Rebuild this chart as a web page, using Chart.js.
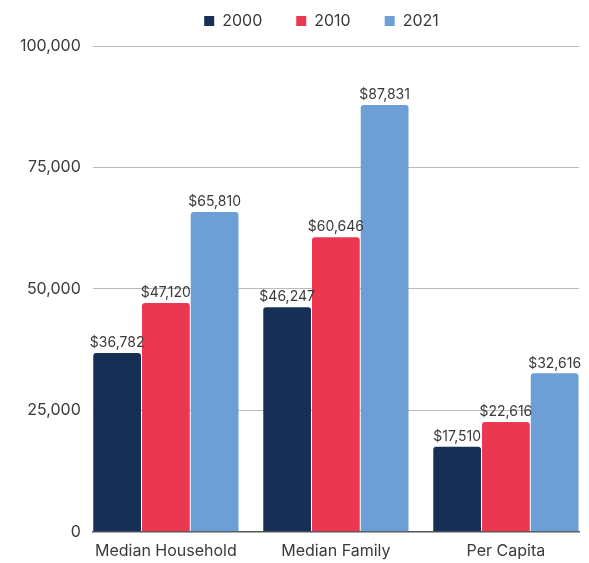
<!DOCTYPE html>
<html>
<head>
<meta charset="utf-8">
<script src="https://cdn.jsdelivr.net/npm/chart.js@4.4.0/dist/chart.umd.min.js"></script>
<style>
  html, body { margin: 0; padding: 0; background: #fff; }
  #wrap { width: 589px; height: 563px; }
</style>
</head>
<body>
<div id="wrap"><canvas id="c"></canvas></div>
<script>
const categories = ['Median Household', 'Median Family', 'Per Capita'];
const years = ['2000', '2010', '2021'];
const values2000 = [36782, 46247, 17510];
const values2010 = [47120, 60646, 22616];
const values2021 = [65810, 87831, 32616];
const yTicks = [0, 25000, 50000, 75000, 100000];

const colors = ['#162f55', '#ec3751', '#6c9fd6'];
const FONT = "Inter, sans-serif";

// draws the $ labels above each bar
const barLabels = {
    id: 'barLabels',
    afterDatasetsDraw(chart) {
        let ctx = chart.ctx;
        ctx.save();
        ctx.font = "14px " + FONT;
        ctx.fillStyle = '#3a3a3a';
        ctx.textAlign = 'center';
        ctx.textBaseline = 'bottom';
        chart.data.datasets.forEach((ds, i) => {
            let meta = chart.getDatasetMeta(i);
            meta.data.forEach((bar, j) => {
                ctx.fillText('$' + ds.data[j].toLocaleString('en-US'), bar.x, bar.y - 3);
            });
        });
        ctx.restore();
    }
};

// legend: fixed height and nudged right, like the original
const legendTweak = {
    id: 'legendTweak',
    beforeInit(chart) {
        let lg = chart.legend;
        let fit = lg.fit;
        lg.fit = function () {
            fit.call(this);
            this.height = 67;
        };
    },
    afterLayout(chart) {
        chart.legend.left += 28;
        chart.legend.right += 28;
    }
};

let config = {
    type: 'bar',
    data: {
        labels: categories,
        datasets: [
            { label: years[0], data: values2000, backgroundColor: colors[0] },
            { label: years[1], data: values2010, backgroundColor: colors[1] },
            { label: years[2], data: values2021, backgroundColor: colors[2] },
        ]
    },
    options: {
        responsive: true,
        maintainAspectRatio: false,
        animation: false,
        datasets: {
            bar: {
                categoryPercentage: 0.86,
                barPercentage: 0.98,
                borderRadius: { topLeft: 3, topRight: 3 },
                borderSkipped: 'bottom',
            }
        },
        layout: { padding: { left: 8, right: 10, top: -21, bottom: 0 } },
        plugins: {
            legend: {
                position: 'top',
                labels: {
                    usePointStyle: true,
                    pointStyle: 'rect',
                    boxWidth: 10,
                    boxHeight: 10,
                    padding: 34,
                    color: '#3a3a3a',
                    font: { family: FONT, size: 16 },
                }
            },
            tooltip: { enabled: false },
        },
        scales: {
            x: {
                grid: { display: false },
                border: { display: true, color: '#555', width: 1.5 },
                ticks: { color: '#3a3a3a', font: { family: FONT, size: 16 }, padding: 2 },
                // groups sit a bit closer to the plot edges than Chart.js's half-category offset
                afterBuildTicks: (scale) => {
                    scale._startValue = -0.43;
                    scale._valueRange = 2.86;
                },
            },
            y: {
                min: 0,
                max: 100000,
                afterBuildTicks: (scale) => {
                    scale.ticks = yTicks.map(v => ({ value: v }));
                },
                grid: { color: '#bbb', drawTicks: false, lineWidth: 1 },
                border: { display: false },
                ticks: {
                    color: '#3a3a3a',
                    padding: 12,
                    font: { family: FONT, size: 16 },
                    callback: (v) => v.toLocaleString('en-US'),
                },
            },
        },
    },
    plugins: [barLabels, legendTweak],
};

new Chart(document.getElementById('c'), config);
</script>
</body>
</html>
